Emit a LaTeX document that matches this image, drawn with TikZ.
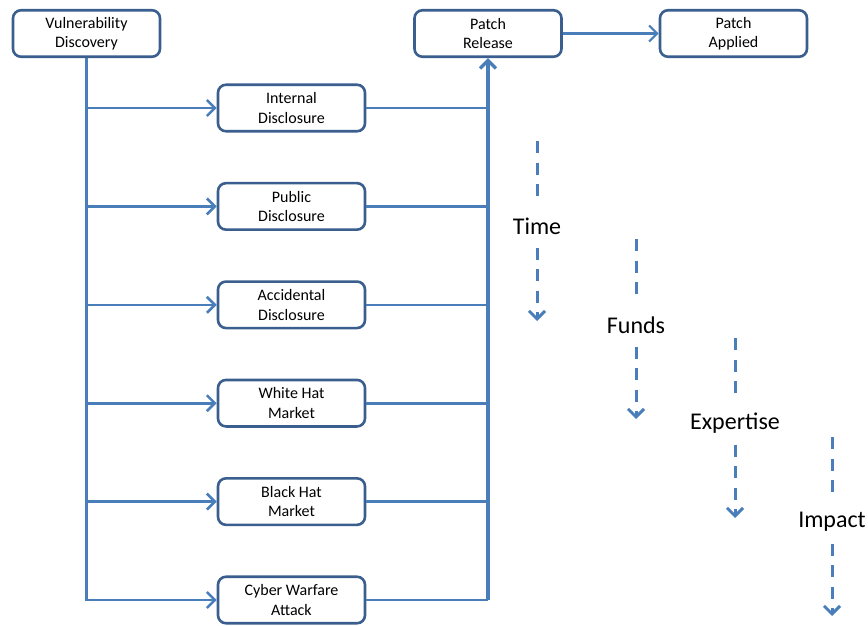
\documentclass[tikz,border=0pt]{standalone}
\usepackage{fontspec}
\setmainfont{Carlito}
\usetikzlibrary{positioning,arrows.meta}
\definecolor{boxblue}{HTML}{3A5F8E}
\definecolor{lineblue}{HTML}{4A7EBB}

\begin{document}
\begin{tikzpicture}[x=1pt,y=-1pt,
                    blocknode/.style={rectangle, rounded corners=8pt, draw=boxblue, line width=2.6pt, fill=white,
                                      minimum width=147pt, minimum height=46.5pt, align=center, inner sep=1pt,
                                      font=\fontsize{16}{19.5}\selectfont},
                    floatingnode/.style={rectangle, minimum height=43pt, inner sep=0pt, font=\fontsize{24}{28}\selectfont},
                    link/.style={draw=lineblue, line width=2.6pt},
                    dashlink/.style={draw=lineblue, line width=3pt, dash pattern=on 12pt off 9.5pt},
                    tip/.style={-{Straight Barb[length=8pt,width=16pt]}}]
                \useasboundingbox (0,0) rectangle (868,626);
                \node[blocknode] (disc) at (86.5,33.5) {Vulnerability\\Discovery};
                \node[blocknode] (release) at (488,33.5) {Patch\\Release};
                \node[blocknode] (applied) at (733.5,33.5) {Patch\\Applied};
                \node[blocknode] (internal) at (291.5,108) {Internal\\Disclosure};
                \node[blocknode] (public) [below=49.3pt of internal] {Public\\Disclosure};
                \node[blocknode] (accident) [below=49.3pt of public] {Accidental\\Disclosure};
                \node[blocknode] (white) [below=49.3pt of accident] {White Hat\\Market};
                \node[blocknode] (black) [below=49.3pt of white] {Black Hat\\Market};
                \node[blocknode] (cyber) [below=49.3pt of black] {Cyber Warfare\\Attack};
                \coordinate (bus) at (release.south |- cyber.east);
                % discovery fans out
                \draw[link,tip] (disc.south) |- (internal.west);
                \draw[link,tip] (disc.south) |- (public.west);
                \draw[link,tip] (disc.south) |- (accident.west);
                \draw[link,tip] (disc.south) |- (white.west);
                \draw[link,tip] (disc.south) |- (black.west);
                \draw[link,tip] (disc.south) |- (cyber.west);
                % everything joins at the patch
                \draw[link] (internal.east) -- (internal.east -| bus);
                \draw[link] (public.east) -- (public.east -| bus);
                \draw[link] (accident.east) -- (accident.east -| bus);
                \draw[link] (white.east) -- (white.east -| bus);
                \draw[link] (black.east) -- (black.east -| bus);
                \draw[link] (cyber.east) -- (bus);
                \draw[link,line width=3.4pt,tip] (bus) -- (release.south);
                \draw[link,line width=2.2pt,tip] (release.east) -- (applied.west);
                % dimensions
                \node[floatingnode] (time) at (537,226) {Time};
                \coordinate (timetop) at (537,141);
                \coordinate (timeend) at (537,321);
                \node[floatingnode] (funds) at (636,325) {Funds};
                \coordinate (fundstop) at (636,239);
                \coordinate (fundsend) at (636,419);
                \node[floatingnode] (expert) at (735,423) {Expertise};
                \coordinate (experttop) at (735,338);
                \coordinate (expertend) at (735,518);
                \node[floatingnode] (impact) at (832,522) {Impact};
                \coordinate (impacttop) at (832,437);
                \coordinate (impactend) at (832,616);
                \draw[dashlink] (timetop) -- (time.north);
                \draw[dashlink,tip] (time.south) -- (timeend);
                \draw[dashlink] (fundstop) -- (funds.north);
                \draw[dashlink,tip] (funds.south) -- (fundsend);
                \draw[dashlink] (experttop) -- (expert.north);
                \draw[dashlink,tip] (expert.south) -- (expertend);
                \draw[dashlink] (impacttop) -- (impact.north);
                \draw[dashlink,tip] (impact.south) -- (impactend);
\end{tikzpicture}
\end{document}
